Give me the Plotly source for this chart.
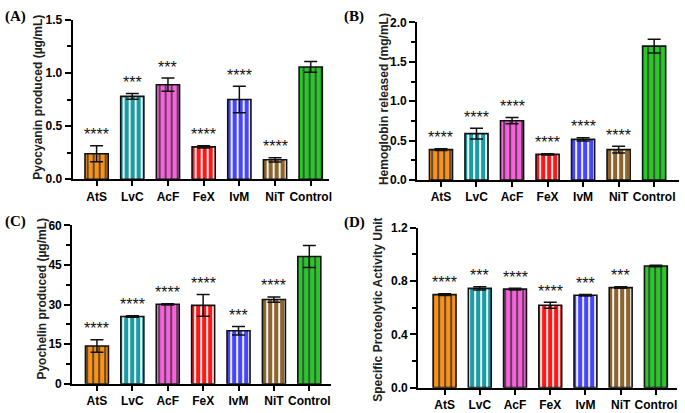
import plotly.graph_objects as go

categories = ["AtS", "LvC", "AcF", "FeX", "IvM", "NiT", "Control"]
colors = ["#ff9010", "#1b9ba3", "#ff5ce0", "#ff1616", "#4646ff", "#8b6530", "#22cc22"]

pyocyanin = [0.24, 0.78, 0.89, 0.305, 0.75, 0.183, 1.057]
pyocyanin_err = [0.075, 0.028, 0.062, 0.01, 0.125, 0.02, 0.05]
pyocyanin_sig = ["****", "***", "***", "****", "****", "****", ""]

hemoglobin = [0.385, 0.588, 0.752, 0.325, 0.515, 0.385, 1.70]
hemoglobin_err = [0.01, 0.068, 0.04, 0.008, 0.022, 0.042, 0.088]
hemoglobin_sig = ["****", "****", "****", "****", "****", "****", ""]

pyochelin = [14.3, 25.5, 30.1, 29.7, 20.1, 31.9, 48.2]
pyochelin_err = [2.4, 0.3, 0.25, 4.1, 1.6, 1.0, 4.2]
pyochelin_sig = ["****", "****", "****", "****", "***", "****", ""]

protease = [0.698, 0.745, 0.739, 0.618, 0.693, 0.751, 0.913]
protease_err = [0.006, 0.013, 0.006, 0.022, 0.006, 0.006, 0.006]
protease_sig = ["****", "***", "****", "****", "***", "***", ""]

panels = [
    dict(vals=pyocyanin, err=pyocyanin_err, sig=pyocyanin_sig, title="Pyocyanin produced (µg/mL)",
         label="(A)", yrange=[0, 1.5], dtick=0.5, fmt=".1f", xdom=[73, 330], ydom=[13.3, 178.3], xr=[-0.67, 6.5],
         tx=38, ty=93, lx=3, ly=10),
    dict(vals=hemoglobin, err=hemoglobin_err, sig=hemoglobin_sig, title="Hemoglobin released (mg/mL)",
         label="(B)", yrange=[0, 2.0], dtick=0.5, fmt=".1f", xdom=[419, 682], ydom=[16, 179], xr=[-0.67, 6.7],
         tx=385, ty=95, lx=344, ly=10),
    dict(vals=pyochelin, err=pyochelin_err, sig=pyochelin_sig, title="Pyochelin produced (µg/mL)",
         label="(C)", yrange=[0, 60], dtick=15, fmt="d", xdom=[72.5, 332], ydom=[226, 390], xr=[-0.7, 6.6],
         tx=42, ty=302, lx=3, ly=222),
    dict(vals=protease, err=protease_err, sig=protease_sig, title="Specific Proteolytic Activity Unit",
         label="(D)", yrange=[0, 1.2], dtick=0.4, fmt=".1f", xdom=[420, 680], ydom=[228.5, 394], xr=[-0.75, 6.6],
         tx=380, ty=313, lx=344, ly=223),
]

W, H = 685, 413
fig = go.Figure()
annotations = []
for i, p in enumerate(panels):
    n = "" if i == 0 else str(i + 1)
    xa, ya = "x" + n, "y" + n
    fig.add_trace(go.Bar(
        x=categories, y=p["vals"], xaxis=xa, yaxis=ya, width=0.65,
        marker=dict(color=colors, line=dict(color="#111111", width=1.6),
                    pattern=dict(shape="|", fgcolor="#fff4c4", fgopacity=1, size=6,
                                 solidity=0.3, fillmode="overlay")),
        error_y=dict(type="data", array=p["err"], visible=True, color="#111111", thickness=1.5, width=6.5),
        showlegend=False,
    ))
    fig.layout["xaxis" + n] = dict(
        domain=[p["xdom"][0] / W, p["xdom"][1] / W], anchor=ya, range=p["xr"],
        showline=True, linecolor="black", linewidth=2, ticks="outside", ticklen=5, tickwidth=1.5,
        tickcolor="black", showgrid=False, zeroline=False,
        tickfont=dict(family="Liberation Sans, Arial", size=12, color="black", weight="bold"),
    )
    fig.layout["yaxis" + n] = dict(
        domain=[1 - p["ydom"][1] / H, 1 - p["ydom"][0] / H], anchor=xa, range=p["yrange"],
        dtick=p["dtick"], tickformat=p["fmt"], showline=True, linecolor="black", linewidth=2, ticks="outside",
        ticklen=6, tickwidth=2, tickcolor="black", showgrid=False, zeroline=False,
        minor=dict(ticks="outside", ticklen=4, tickwidth=1.5, tickcolor="black", dtick=p["dtick"] / 2),
        tickfont=dict(family="Liberation Sans, Arial", size=12, color="black", weight="bold"),
    )
    for c, v, e, s in zip(categories, p["vals"], p["err"], p["sig"]):
        if s:
            annotations.append(dict(x=c, y=v + e, xref=xa, yref=ya, text=s, showarrow=False,
                                    yanchor="middle", yshift=11,
                                    font=dict(family="Liberation Sans, Arial", size=16, color="#111111")))
    annotations.append(dict(x=p["tx"] / W, y=1 - p["ty"] / H, xref="paper", yref="paper",
                            text=p["title"], showarrow=False, textangle=-90,
                            xanchor="center", yanchor="middle",
                            font=dict(family="Liberation Sans, Arial", size=12, color="#222222", weight="bold")))
    annotations.append(dict(x=p["lx"] / W, y=1 - p["ly"] / H, xref="paper", yref="paper",
                            text="<b>" + p["label"] + "</b>", showarrow=False,
                            xanchor="left", yanchor="middle",
                            font=dict(family="Liberation Serif, Times New Roman", size=15, color="black")))

fig.update_layout(width=W, height=H, margin=dict(l=0, r=0, t=0, b=0),
                  paper_bgcolor="white", plot_bgcolor="white", annotations=annotations,
                  bargap=0.35)
fig.write_html("out.html", config={"displayModeBar": False},
               post_script="document.body.style.margin='0';document.documentElement.style.overflow='hidden';")
